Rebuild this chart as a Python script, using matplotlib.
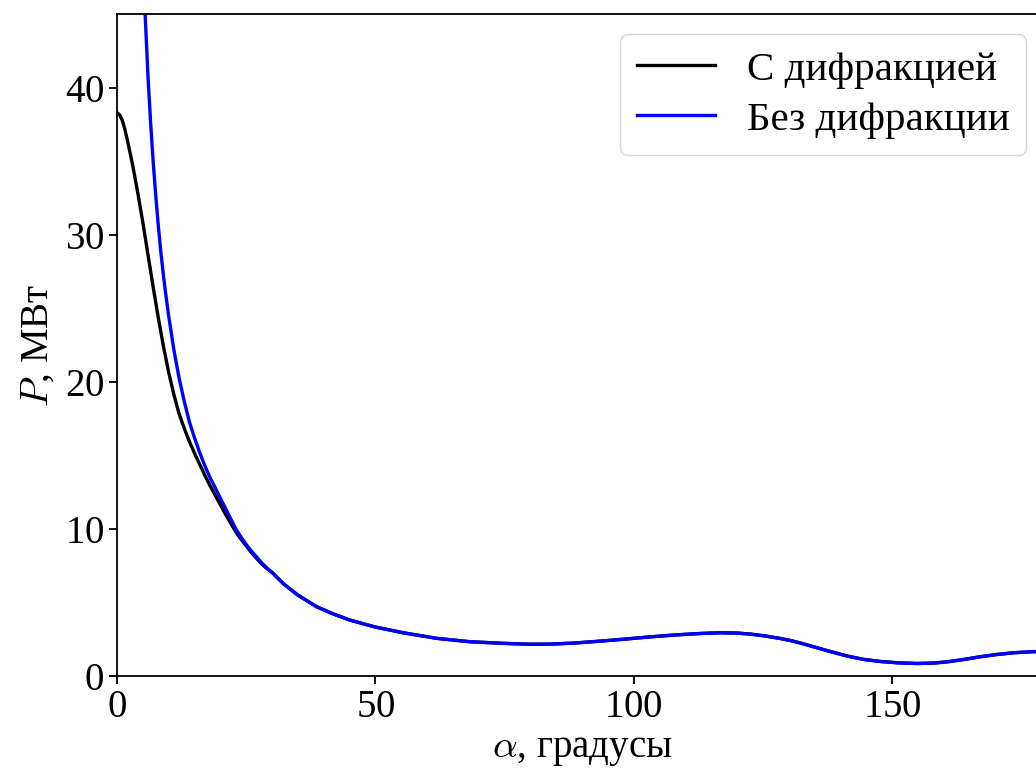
import numpy as np
import matplotlib
matplotlib.use("Agg")
import matplotlib.pyplot as plt

# Beam power vs. angle: with and without diffraction
alpha_diff_head = [0.0, 0.5, 1.0, 1.5, 2.0, 3.0, 4.0, 5.0, 6.0, 7.0, 8.0, 9.0, 10.0,
                   11.0, 12.0, 13.0, 14.0, 15.0, 16.0, 17.0, 18.0, 19.0, 20.0, 21.0,
                   22.0, 23.0, 24.0, 25.0, 26.0, 27.0, 28.0, 29.0]
power_diff_head = [38.3, 38.15, 37.8, 37.2, 36.45, 34.8, 32.9, 30.85, 28.65, 26.45, 24.35,
                   22.4, 20.65, 19.15, 17.85, 16.85, 15.95, 15.15, 14.4, 13.65, 12.95,
                   12.3, 11.65, 11.0, 10.4, 9.8, 9.3, 8.85, 8.4, 8.0, 7.62, 7.3]

alpha_nodiff_head = [3.0, 4.0, 4.5, 5.0, 5.5, 6.0, 6.5, 7.0, 7.5, 8.0, 8.5, 9.0, 9.5,
                     10.0, 11.0, 12.0, 13.0, 14.0, 15.0, 16.0, 17.0, 18.0, 19.0, 20.0,
                     21.0, 22.0, 23.0, 24.0, 25.0, 26.0, 27.0, 28.0, 29.0]
power_nodiff_head = [82.0, 61.0, 54.5, 49.0, 44.6, 40.8, 37.7, 35.0, 32.7, 30.6, 28.8,
                     27.2, 25.8, 24.5, 22.2, 20.3, 18.7, 17.3, 16.2, 15.2, 14.3, 13.5,
                     12.8, 12.1, 11.4, 10.7, 10.0, 9.45, 8.95, 8.5, 8.1, 7.7, 7.35]

# Both models coincide at larger angles
alpha_tail = [30.0, 32.2, 35.0, 38.7, 42.0, 45.1, 50.0, 55.4, 61.9, 68.3, 74.8, 80.0,
              84.0, 88.5, 93.5, 98.0, 103.2, 108.0, 112.9, 116.7, 120.0, 122.6, 125.5,
              128.4, 130.5, 132.2, 134.8, 138.0, 141.3, 144.5, 147.7, 151.0, 154.8,
              158.0, 160.6, 164.0, 167.1, 170.0, 173.5, 177.0, 180.0]
power_tail = [7.05, 6.28, 5.5, 4.70, 4.2, 3.80, 3.33, 2.94, 2.56, 2.33, 2.22, 2.16,
              2.17, 2.24, 2.37, 2.5, 2.66, 2.79, 2.89, 2.94, 2.92, 2.85, 2.72,
              2.55, 2.4, 2.25, 1.99, 1.67, 1.36, 1.13, 0.99, 0.90, 0.85,
              0.88, 0.96, 1.13, 1.31, 1.45, 1.58, 1.65, 1.68]

labels = ["С дифракцией", "Без дифракции"]
x_label = r"$\alpha$, градусы"
y_label = r"$P$, МВт"

plt.rcParams["mathtext.fontset"] = "cm"
plt.rcParams["axes.formatter.use_mathtext"] = True
plt.rcParams["font.family"] = ["Liberation Serif", "DejaVu Serif"]
plt.rcParams["font.size"] = 28

fig = plt.figure(figsize=(10.36, 7.74), dpi=100)
ax = fig.add_axes([0.1129, 0.1266, 0.8977, 0.8553])

ax.plot(alpha_diff_head + alpha_tail, power_diff_head + power_tail,
        color="black", lw=2.4, label=labels[0])
ax.plot(alpha_nodiff_head + alpha_tail, power_nodiff_head + power_tail,
        color="blue", lw=2.4, label=labels[1])

ax.set_xlim(0, 180)
ax.set_ylim(0, 45)
ax.set_xticks([0, 50, 100, 150])
ax.set_yticks([0, 10, 20, 30, 40])
ax.tick_params(labelsize=28, length=5.7, width=1.3)
for s in ax.spines.values():
    s.set_linewidth(1.3)

ax.set_xlabel(x_label, fontsize=28, labelpad=4)
ax.set_ylabel(y_label, fontsize=28, labelpad=6)
ax.legend(loc="upper right", fontsize=29.5, handlelength=1.9, labelspacing=0.3,
          borderaxespad=0.5)

fig.savefig("out.png", dpi=100)
